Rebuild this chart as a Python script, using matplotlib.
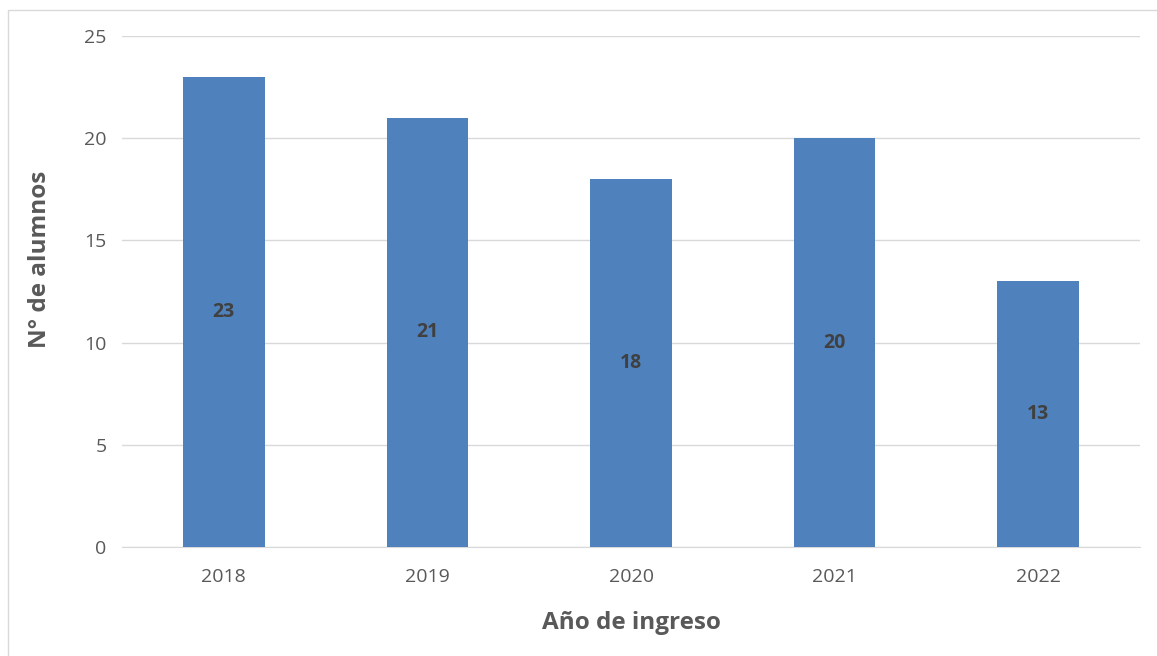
import matplotlib
matplotlib.use("Agg")
import matplotlib.pyplot as plt
from matplotlib.patches import Rectangle

# data
years = ["2018", "2019", "2020", "2021", "2022"]
alumnos = [23, 21, 18, 20, 13]
yticks = [0, 5, 10, 15, 20, 25]

plt.rcParams['font.family'] = ['Open Sans', 'DejaVu Sans']

fig = plt.figure(figsize=(11.57, 6.56), dpi=100)
ax = fig.add_axes([122/1157, 1 - 547/656, (1140 - 122)/1157, (547 - 36)/656])

x = list(range(len(years)))
bars = ax.bar(x, alumnos, width=0.4, color='#4F81BD', zorder=3)

for xi, v in zip(x, alumnos):
    ax.text(xi, v / 2, str(v), ha='center', va='center', fontsize=14,
            fontweight='bold', color='#404040', zorder=4)

ax.set_xlim(-0.5, len(years) - 0.5)
ax.set_ylim(0, 25)
ax.set_yticks(yticks)
ax.set_xticks(x)
ax.set_xticklabels(years)
ax.grid(axis='y', color='#D9D9D9', linewidth=1, zorder=0)
for s in ['top', 'right', 'left']:
    ax.spines[s].set_visible(False)
ax.spines['bottom'].set_color('#D9D9D9')
ax.spines['bottom'].set_zorder(0)
ax.tick_params(axis='both', length=0, labelsize=14, colors='#595959')
ax.tick_params(axis='y', pad=11)
ax.tick_params(axis='x', pad=15)

fig.text(40/1157, 1 - 259/656, "N° de alumnos", rotation=90, ha='center', va='center',
         fontsize=17.5, fontweight='bold', color='#595959')
fig.text(631/1157, 1 - 623/656, "Año de ingreso", ha='center', va='center',
         fontsize=17.5, fontweight='bold', color='#595959')

# light frame of the chart area
fig.patches.append(Rectangle((8/1157, -0.1), 1.2, 1.1 - 10/656, transform=fig.transFigure,
                             fill=False, edgecolor='#D9D9D9', linewidth=1))

fig.savefig("out.png", dpi=100)
